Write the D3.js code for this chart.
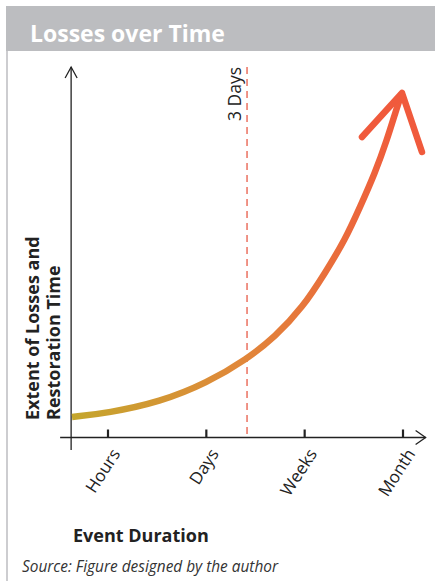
<!DOCTYPE html>
<html><head><meta charset="utf-8">
<script src="https://cdn.jsdelivr.net/npm/d3@7"></script>
<style>
html,body{margin:0;padding:0;background:#fff;}
svg{display:block;font-family:"Open Sans",sans-serif;}
</style></head>
<body>
<svg id="c" width="435" height="581"></svg>
<script>
// ---- data ----
const title = "Losses over Time";
const categories = ["Hours", "Days", "Weeks", "Month"];
const curveX = [-0.366, 0, 0.529, 1.007, 1.414, 1.698, 1.983, 2.207, 2.410, 2.563, 2.715, 2.837, 2.939, 2.990];
const curveY = [5.53, 6.61, 9.58, 14.71, 21.19, 27.13, 35.22, 44.40, 53.31, 62.21, 71.39, 80.30, 89.20, 92.98];
const arrowHeadX = [2.583, 2.990, 3.193];
const arrowHeadY = [81.11, 92.98, 77.06];
const markerPos = 1.414;
const markerLabel = "3 Days";
const xTitle = "Event Duration";
const yTitle = ["Extent of Losses and", "Restoration Time"];
const source = "Source: Figure designed by the author";

// ---- scales ----
const svg = d3.select("#c");
const x = d3.scaleLinear().domain([0, 3]).range([108, 403]);
const y = d3.scaleLinear().domain([0, 100]).range([437.5, 67]);
const x0 = x(-0.375), xEnd = x(3.23);
const yBottom = y(-3.4);

// frame
svg.append("rect").attr("x", 6).attr("y", 6).attr("width", 429).attr("height", 45).attr("fill", "#bcbdc0");
svg.append("line").attr("x1", 7).attr("x2", 7).attr("y1", 51).attr("y2", 581)
  .attr("stroke", "#bcbdc0").attr("stroke-width", 1.5);
svg.append("text").attr("x", 30).attr("y", 42).text(title)
  .attr("fill", "#fff").attr("font-weight", "bold").attr("font-size", 23);

// gradient
const defs = svg.append("defs");
const grad = defs.append("linearGradient").attr("id", "g").attr("gradientUnits", "userSpaceOnUse")
  .attr("x1", x(curveX[0])).attr("x2", x(3)).attr("y1", 0).attr("y2", 0);
grad.append("stop").attr("offset", "0%").attr("stop-color", "#c4a62c");
grad.append("stop").attr("offset", "50%").attr("stop-color", "#e0883a");
grad.append("stop").attr("offset", "100%").attr("stop-color", "#f05a3c");

// dashed marker
svg.append("line").attr("x1", x(markerPos)).attr("x2", x(markerPos))
  .attr("y1", y(100)).attr("y2", y(0))
  .attr("stroke", "#ec7a6a").attr("stroke-width", 1.6).attr("stroke-dasharray", "7,5");
svg.append("text").attr("transform", `translate(${x(markerPos) - 6},${y(100)}) rotate(-90)`)
  .attr("text-anchor", "end").attr("font-size", 17.5).attr("fill", "#222").text(markerLabel);

// axes
const axisCol = "#222";
svg.append("line").attr("x1", x0).attr("x2", x0).attr("y1", yBottom).attr("y2", y(100))
  .attr("stroke", axisCol).attr("stroke-width", 1.3);
svg.append("path").attr("d", `M${x0 - 6},${y(100) + 11}L${x0},${y(100)}L${x0 + 6},${y(100) + 11}`)
  .attr("fill", "none").attr("stroke", axisCol).attr("stroke-width", 1.3);
svg.append("line").attr("x1", x0 - 11).attr("x2", xEnd).attr("y1", y(0)).attr("y2", y(0))
  .attr("stroke", axisCol).attr("stroke-width", 1.3);
svg.append("path").attr("d", `M${xEnd - 10},${y(0) - 7}L${xEnd},${y(0)}L${xEnd - 10},${y(0) + 7}`)
  .attr("fill", "none").attr("stroke", axisCol).attr("stroke-width", 1.3);

const ticks = svg.append("g");
categories.forEach((c, i) => {
  ticks.append("line").attr("x1", x(i)).attr("x2", x(i)).attr("y1", y(0)).attr("y2", y(0) - 8)
    .attr("stroke", axisCol).attr("stroke-width", 2.2);
  ticks.append("text").attr("transform", `translate(${x(i) + 8},${y(0) + 13}) rotate(-57)`)
    .attr("text-anchor", "end").attr("dy", "0.35em").attr("font-size", 17).attr("fill", "#222").text(c);
});

// curve
const pts = curveX.map((v, i) => [x(v), y(curveY[i])]);
svg.append("path").attr("d", d3.line().curve(d3.curveBasis)(pts))
  .attr("fill", "none").attr("stroke", "url(#g)").attr("stroke-width", 6.5).attr("stroke-linecap", "butt");
const head = arrowHeadX.map((v, i) => [x(v), y(arrowHeadY[i])]);
svg.append("path").attr("d", d3.line()(head))
  .attr("fill", "none").attr("stroke", "#f05a3c").attr("stroke-width", 6.5)
  .attr("stroke-linecap", "round").attr("stroke-linejoin", "round");

// titles
svg.append("text").attr("x", 73).attr("y", 542).attr("font-size", 18).attr("font-weight", "bold")
  .attr("fill", "#222").text(xTitle);
yTitle.forEach((t, i) => {
  svg.append("text").attr("transform", `translate(${39 + i * 21},420) rotate(-90)`)
    .attr("font-size", 18).attr("font-weight", "bold").attr("fill", "#222").text(t);
});
svg.append("text").attr("x", 22).attr("y", 572).attr("font-size", 15.4).attr("font-style", "italic")
  .attr("fill", "#333").text(source);
</script>
</body></html>
